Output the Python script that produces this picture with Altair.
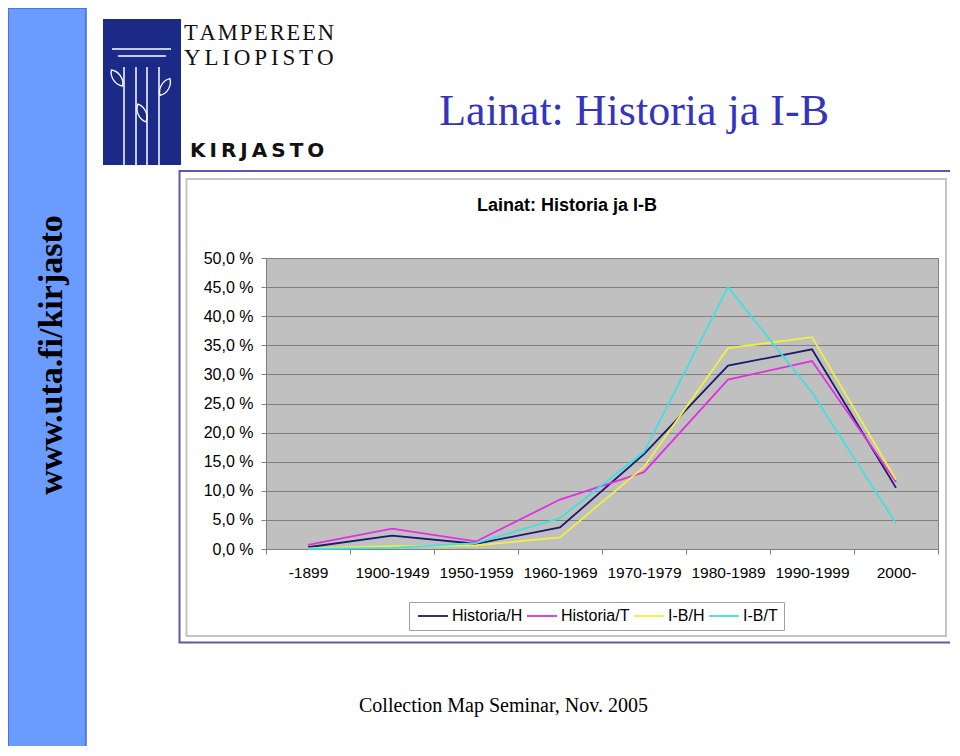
import altair as alt
import pandas as pd

# ---- data ----
categories = ["-1899", "1900-1949", "1950-1959", "1960-1969",
              "1970-1979", "1980-1989", "1990-1999", "2000-"]
series_names = ["Historia/H", "Historia/T", "I-B/H", "I-B/T"]
historia_h = [0.3, 2.3, 0.9, 3.7, 16.3, 31.5, 34.3, 10.5]
historia_t = [0.7, 3.5, 1.3, 8.5, 13.2, 29.1, 32.3, 11.5]
ib_h = [0.1, 0.5, 0.6, 2.0, 14.1, 34.5, 36.4, 11.9]
ib_t = [0.0, 0.2, 1.0, 5.3, 16.7, 45.0, 26.9, 4.4]
y_ticks = [0, 5, 10, 15, 20, 25, 30, 35, 40, 45, 50]

series_colors = ["#1a1a6e", "#e030e0", "#f0f040", "#40e0e0"]

rows = []
for name, vals in zip(series_names, [historia_h, historia_t, ib_h, ib_t]):
    for c, v in zip(categories, vals):
        rows.append({"period": c, "series": name, "share": v})
df = pd.DataFrame(rows)

W, H = 672, 291
SANS = "Liberation Sans, Arial, sans-serif"
SERIF = "Liberation Serif, Times New Roman, serif"
one = pd.DataFrame({"k": [0]})


def box(x1, x2, y1, y2, **kw):
    return alt.Chart(one).mark_rect(**kw).encode(
        x=alt.value(x1), x2=alt.value(x2), y=alt.value(y1), y2=alt.value(y2))


def rule(x1, x2, y1, y2, **kw):
    return alt.Chart(one).mark_rule(**kw).encode(
        x=alt.value(x1), x2=alt.value(x2), y=alt.value(y1), y2=alt.value(y2))


def label(txt, x, y, **kw):
    return alt.Chart(one).mark_text(text=txt, **kw).encode(x=alt.value(x), y=alt.value(y))


HS = "\u200a"
# decorative slide elements (coordinates relative to the plot origin)
side_bar = box(-258, -180, -250, 494, fill="#6a9bff", stroke="#4c66cc", strokeWidth=1.5)
side_text = label("www.uta.fi/kirjasto", -204, 97, angle=270, align="center",
                  baseline="alphabetic", font=SERIF, fontSize=34, fontWeight="bold", color="black")

logo_bg = box(-163, -85, -239, -93, fill="#1b2a86")
logo_h1 = rule(-154, -95, -209, -209, color="white", strokeWidth=1.5)
logo_h2 = rule(-148, -100, -202, -202, color="white", strokeWidth=1.5)
logo_cols = [rule(x, x, -191, -93, color="white", strokeWidth=1.5) for x in (-142, -130, -119, -107)]
leaf_shape = "M0,-1 C0.55,-0.5 0.55,0.5 0,1 C-0.55,0.5 -0.55,-0.5 0,-1 Z"
leaves = [alt.Chart(one).mark_point(shape=leaf_shape, filled=False, stroke="white",
                                    strokeWidth=1.3, size=380, angle=a, opacity=1).encode(
              x=alt.value(x), y=alt.value(y))
          for x, y, a in ((-149, -180, 325), (-101, -171, 30), (-124, -145, 335))]
logo_t1 = label(HS.join("TAMPEREEN"), -82, -218, align="left",
                baseline="alphabetic", font=SERIF, fontSize=22.5, color="#111111")
logo_t2 = label((HS * 2).join("YLIOPISTO"), -82, -193, align="left",
                baseline="alphabetic", font=SERIF, fontSize=23, color="#111111")
logo_t3 = label("\u2009".join("KIRJASTO"), -76, -101, align="left",
                baseline="alphabetic", font="DejaVu Sans", fontSize=20, fontWeight="bold",
                color="#111111")

big_title = label("Lainat: Historia ja I-B", 563, -133, align="right", baseline="alphabetic",
                  font=SERIF, fontSize=44, color="#3434bc")

frame_outer = box(-86.5, 685, -87, 384.5, fill="white", fillOpacity=0, stroke="#5a5aa8", strokeWidth=2)
frame_inner = box(-79.5, 680, -79, 378, fill="white", fillOpacity=0, stroke="#c4c4c4", strokeWidth=2)

chart_title = label("Lainat: Historia ja I-B", 301, -52, align="center", baseline="middle",
                    font=SANS, fontSize=18, fontWeight="bold", color="black")
footer = label("Collection Map Seminar, Nov. 2005", 237.5, 454, align="center",
               baseline="alphabetic", font=SERIF, fontSize=20, color="black")

lines = alt.Chart(df).mark_line(strokeWidth=1.8).encode(
    x=alt.X("period:N", sort=categories,
            scale=alt.Scale(type="band", paddingInner=0, paddingOuter=0),
            axis=alt.Axis(title=None, labelAngle=0, tickBand="extent", grid=False,
                          domainColor="#808080", tickColor="#808080", tickSize=5,
                          labelPadding=11, labelFontSize=15.5, labelFont=SANS,
                          labelColor="black")),
    y=alt.Y("share:Q", scale=alt.Scale(domain=[0, 50], nice=False),
            axis=alt.Axis(title=None, values=y_ticks,
                          labelExpr="replace(format(datum.value, '.1f'), '.', ',') + ' %'",
                          grid=True, gridColor="#808080", gridOpacity=1,
                          domainColor="#808080", tickColor="#808080", tickSize=5,
                          labelPadding=8, labelFontSize=16, labelFont=SANS,
                          labelColor="black")),
    color=alt.Color("series:N",
                    scale=alt.Scale(domain=series_names, range=series_colors),
                    legend=alt.Legend(title=None, orient="none", legendX=143, legendY=344,
                                      direction="horizontal", symbolType="M-1,0L5,0",
                                      symbolSize=100, symbolStrokeWidth=1.8,
                                      labelFontSize=16, labelFont=SANS, labelColor="black",
                                      labelOffset=21, columnPadding=0, padding=6,
                                      strokeColor="#a0a0a0", fillColor="white")),
)

chart = alt.layer(
    side_bar, side_text, logo_bg, logo_h1, logo_h2, *logo_cols, *leaves,
    logo_t1, logo_t2, logo_t3, big_title, frame_outer, frame_inner,
    chart_title, footer, lines,
).properties(
    width=W, height=H,
    padding={"left": 258, "top": 250, "right": 12, "bottom": 197},
    autosize=alt.AutoSizeParams(type="none"),
    background="white",
).configure_view(
    fill="#c0c0c0", stroke="#808080", strokeWidth=1,
)

chart.save("out.html", embed_options={"renderer": "svg", "actions": False})
